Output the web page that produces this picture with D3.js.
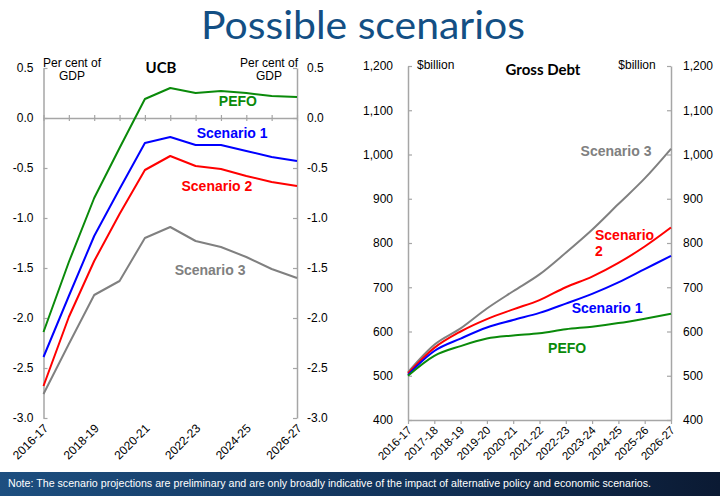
<!DOCTYPE html>
<html>
<head>
<meta charset="utf-8">
<script src="https://cdn.jsdelivr.net/npm/d3@7"></script>
<style>
  body { margin: 0; background: #fff; }
  svg { display: block; font-family: "Liberation Sans", Arial, sans-serif; }
</style>
</head>
<body>
<script>
// categories (financial years)
const cats = ["2016-17", "2017-18", "2018-19", "2019-20", "2020-21", "2021-22",
              "2022-23", "2023-24", "2024-25", "2025-26", "2026-27"];

// UCB, per cent of GDP
const ucbPefo = [-2.14, -1.44, -0.80, -0.30, 0.19, 0.30, 0.25, 0.27, 0.25, 0.22, 0.21];
const ucbS1   = [-2.39, -1.78, -1.18, -0.71, -0.25, -0.19, -0.27, -0.27, -0.33, -0.39, -0.43];
const ucbS2   = [-2.68, -1.99, -1.43, -0.96, -0.52, -0.38, -0.48, -0.51, -0.58, -0.64, -0.68];
const ucbS3   = [-2.76, -2.26, -1.77, -1.63, -1.20, -1.09, -1.23, -1.29, -1.39, -1.51, -1.60];

// Gross debt, $billion
const debtPefo = [500, 545, 567, 584, 591, 596, 605, 611, 619, 629, 640];
const debtS1   = [502, 556, 584, 609, 626, 642, 663, 685, 711, 741, 771];
const debtS2   = [505, 563, 600, 628, 650, 671, 700, 724, 755, 792, 835];
const debtS3   = [508, 570, 607, 652, 691, 729, 778, 830, 888, 946, 1013];

// tick values
const ucbTicks  = [0.5, 0, -0.5, -1.0, -1.5, -2.0, -2.5, -3.0];
const debtTicks = [400, 500, 600, 700, 800, 900, 1000, 1100, 1200];

const W = 720, H = 496;
const axisCol = "#a6a6a6";
const cols = { pefo: "#0a8a0a", s1: "#0000ff", s2: "#ff0000", s3: "#808080" };

const svg = d3.select("body").append("svg")
  .attr("width", W).attr("height", H);

// title
svg.append("text")
  .attr("x", 363).attr("y", 39)
  .attr("text-anchor", "middle")
  .attr("font-family", "Lato, 'Open Sans', sans-serif")
  .attr("font-size", 39)
  .attr("fill", "#134f84")
  .attr("textLength", 324).attr("lengthAdjust", "spacingAndGlyphs")
  .text("Possible scenarios");

function styleAxis(g) {
  g.selectAll("path.domain").attr("stroke", axisCol).attr("stroke-width", 1.5);
  g.selectAll(".tick line").attr("stroke", axisCol).attr("stroke-width", 1.2);
  g.selectAll(".tick text").attr("fill", "#000").attr("font-size", 12)
    .attr("font-family", "'Liberation Sans', Arial, sans-serif");
}

// ---------- left panel: UCB ----------
const xL = d3.scaleLinear().domain([0, cats.length - 1]).range([43.5, 297]);
const yL = d3.scaleLinear().domain([-3, 0.5]).range([418, 68]);

const left = svg.append("g");

left.append("g").attr("transform", `translate(${xL(0)},0)`)
  .call(d3.axisLeft(yL).tickValues(ucbTicks).tickSizeInner(-4).tickSizeOuter(0)
    .tickPadding(10).tickFormat(d => d.toFixed(1)))
  .call(styleAxis);
left.append("g").attr("transform", `translate(${xL(10)},0)`)
  .call(d3.axisRight(yL).tickValues(ucbTicks).tickSizeInner(-4).tickSizeOuter(0)
    .tickPadding(10).tickFormat(d => d.toFixed(1)))
  .call(styleAxis);

// zero line with crossing ticks
const zeroAx = left.append("g").attr("transform", `translate(0,${yL(0)})`)
  .call(d3.axisBottom(xL).tickValues(d3.range(cats.length)).tickSizeInner(3)
    .tickSizeOuter(0).tickFormat(""))
  .call(styleAxis);
zeroAx.selectAll(".tick line").attr("y1", -3);

// rotated category labels
const xLabL = left.append("g").attr("transform", `translate(0,${yL(-3)})`)
  .call(d3.axisBottom(xL).tickValues(d3.range(0, cats.length, 2)).tickSize(0)
    .tickFormat(i => cats[i]));
xLabL.select("path.domain").remove();
xLabL.selectAll(".tick text")
  .attr("font-size", 12).attr("fill", "#000")
  .attr("text-anchor", "end")
  .attr("dy", 0).attr("y", 0)
  .attr("transform", "translate(5,11) rotate(-45)");

const lineL = d3.line().x((d, i) => xL(i)).y(d => yL(d));
[[ucbPefo, cols.pefo], [ucbS1, cols.s1], [ucbS2, cols.s2], [ucbS3, cols.s3]].forEach(([s, c]) => {
  left.append("path").datum(s).attr("d", lineL)
    .attr("fill", "none").attr("stroke", c).attr("stroke-width", 2)
    .attr("stroke-linejoin", "round");
});

left.append("text").attr("x", 72).attr("y", 67).attr("text-anchor", "middle")
  .attr("font-size", 12).text("Per cent of");
left.append("text").attr("x", 72).attr("y", 80).attr("text-anchor", "middle")
  .attr("font-size", 12).text("GDP");
left.append("text").attr("x", 269).attr("y", 67).attr("text-anchor", "middle")
  .attr("font-size", 12).text("Per cent of");
left.append("text").attr("x", 269).attr("y", 80).attr("text-anchor", "middle")
  .attr("font-size", 12).text("GDP");
left.append("text").attr("x", 161).attr("y", 73).attr("text-anchor", "middle")
  .attr("font-family", "Lato, sans-serif").attr("font-weight", "bold")
  .attr("font-size", 15).text("UCB");

const labelsL = [
  { t: "PEFO", i: 7.67, v: 0.12, c: cols.pefo },
  { t: "Scenario 1", i: 7.44, v: -0.20, c: cols.s1 },
  { t: "Scenario 2", i: 6.84, v: -0.73, c: cols.s2 },
  { t: "Scenario 3", i: 6.57, v: -1.57, c: cols.s3 }
];
labelsL.forEach(l => {
  left.append("text").attr("x", xL(l.i)).attr("y", yL(l.v))
    .attr("text-anchor", "middle").attr("font-weight", "bold").attr("font-size", 14)
    .attr("fill", l.c).text(l.t);
});

// ---------- right panel: Gross Debt ----------
const xR = d3.scaleLinear().domain([0, cats.length - 1]).range([408, 671]);
const yR = d3.scaleLinear().domain([400, 1200]).range([420, 66]);

const right = svg.append("g");

right.append("g").attr("transform", `translate(${xR(0)},0)`)
  .call(d3.axisLeft(yR).tickValues(debtTicks).tickSizeInner(-4).tickSizeOuter(0)
    .tickPadding(15).tickFormat(d3.format(",")))
  .call(styleAxis);
right.append("g").attr("transform", `translate(${xR(10)},0)`)
  .call(d3.axisRight(yR).tickValues(debtTicks).tickSizeInner(-4).tickSizeOuter(0)
    .tickPadding(12).tickFormat(d3.format(",")))
  .call(styleAxis);

const xAxR = right.append("g").attr("transform", `translate(0,${yR(400)})`)
  .call(d3.axisBottom(xR).tickValues(d3.range(cats.length)).tickSizeInner(4)
    .tickSizeOuter(0).tickFormat(i => cats[i]))
  .call(styleAxis);
xAxR.selectAll(".tick text")
  .attr("font-size", 11.5)
  .attr("text-anchor", "end")
  .attr("dy", 0).attr("y", 0)
  .attr("transform", "translate(4,11) rotate(-45)");

const lineR = d3.line().x((d, i) => xR(i)).y(d => yR(d)).curve(d3.curveMonotoneX);
[[debtS3, cols.s3], [debtS2, cols.s2], [debtS1, cols.s1], [debtPefo, cols.pefo]].forEach(([s, c]) => {
  right.append("path").datum(s).attr("d", lineR)
    .attr("fill", "none").attr("stroke", c).attr("stroke-width", 2);
});

right.append("text").attr("x", 417).attr("y", 69)
  .attr("font-size", 12).text("$billion");
right.append("text").attr("x", 637).attr("y", 69).attr("text-anchor", "middle")
  .attr("font-size", 12).text("$billion");
right.append("text").attr("x", 543).attr("y", 75).attr("text-anchor", "middle")
  .attr("font-family", "Lato, sans-serif").attr("font-weight", "bold")
  .attr("font-size", 15).text("Gross Debt");

const labelsR = [
  { t: "Scenario 3", i: 7.91, v: 997, c: cols.s3, a: "middle" },
  { t: "Scenario", i: 7.11, v: 807, c: cols.s2, a: "start" },
  { t: "2", i: 7.11, v: 771, c: cols.s2, a: "start" },
  { t: "Scenario 1", i: 7.57, v: 642, c: cols.s1, a: "middle" },
  { t: "PEFO", i: 6.05, v: 551, c: cols.pefo, a: "middle" }
];
labelsR.forEach(l => {
  right.append("text").attr("x", xR(l.i)).attr("y", yR(l.v))
    .attr("text-anchor", l.a).attr("font-weight", "bold").attr("font-size", 14)
    .attr("fill", l.c).text(l.t);
});

// ---------- footer ----------
const grad = svg.append("defs").append("linearGradient").attr("id", "foot")
  .attr("x1", "0%").attr("x2", "100%");
grad.append("stop").attr("offset", "0%").attr("stop-color", "#1d4f80");
grad.append("stop").attr("offset", "55%").attr("stop-color", "#12335a");
grad.append("stop").attr("offset", "100%").attr("stop-color", "#0b1a33");

svg.append("rect").attr("x", 0).attr("y", 472).attr("width", W).attr("height", H - 472)
  .attr("fill", "url(#foot)");
svg.append("text").attr("x", 8).attr("y", 487)
  .attr("font-size", 11).attr("fill", "#fff")
  .attr("textLength", 643).attr("lengthAdjust", "spacingAndGlyphs")
  .text("Note: The scenario projections are preliminary and are only broadly indicative of the impact of alternative policy and economic scenarios.");
</script>
</body>
</html>
